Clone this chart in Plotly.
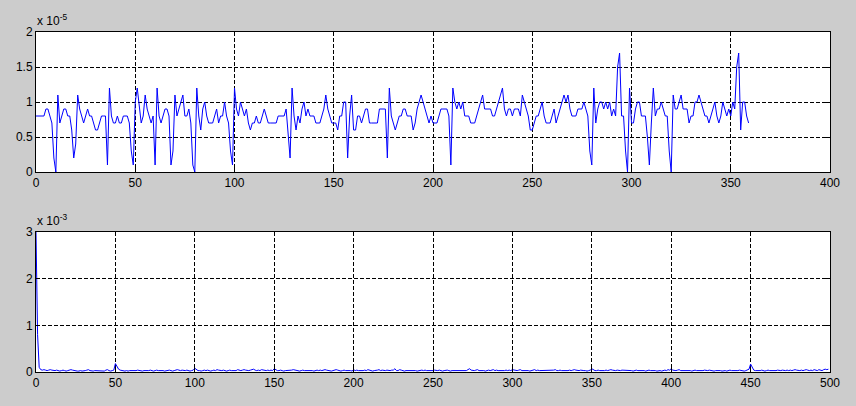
import plotly.graph_objects as go

# ---- top panel: signal (values in units of 1e-5) ----
top_vals_e5 = [
    0.8, 0.8, 0.8, 0.8, 0.8, 0.9, 0.9, 0.8, 0.7, 0.2,   # 0-9
    0.0, 1.1, 0.7, 0.8, 0.9, 0.9, 0.8, 0.8, 0.6, 0.2,   # 10-19
    0.4, 1.1, 0.9, 0.8, 0.7, 0.8, 0.9, 0.8, 0.8, 0.7,   # 20-29
    0.6, 0.6, 0.7, 0.8, 0.8, 0.8, 0.1, 1.2, 0.8, 0.7,   # 30-39
    0.7, 0.8, 0.7, 0.7, 0.8, 0.8, 0.8, 0.7, 0.3, 0.1,   # 40-49
    1.0, 1.2, 0.9, 0.7, 0.8, 1.1, 0.9, 0.8, 0.7, 0.8,   # 50-59
    0.1, 1.2, 0.8, 0.7, 0.8, 0.9, 0.9, 0.8, 0.1, 0.3,   # 60-69
    1.1, 0.8, 0.9, 1.0, 1.1, 0.8, 0.8, 0.9, 0.7, 0.1,   # 70-79
    0.0, 1.2, 0.8, 0.6, 0.9, 1.0, 0.8, 0.7, 0.7, 0.7,   # 80-89
    0.8, 0.9, 0.7, 0.8, 0.8, 1.0, 0.8, 0.7, 0.3, 0.1,   # 90-99
    1.2, 0.9, 0.8, 1.0, 0.9, 0.8, 0.9, 0.7, 0.6, 0.7,   # 100-109
    0.7, 0.8, 0.7, 0.7, 0.8, 0.9, 0.8, 0.7, 0.7, 0.7,   # 110-119
    0.7, 0.7, 0.8, 0.8, 0.8, 0.8, 0.9, 0.6, 0.2, 1.2,   # 120-129
    0.8, 0.6, 0.8, 0.7, 0.9, 1.0, 0.8, 0.9, 0.8, 0.8,   # 130-139
    0.8, 0.7, 0.7, 0.7, 0.8, 0.9, 1.1, 0.9, 0.8, 0.7,   # 140-149
    0.7, 0.7, 0.6, 0.8, 0.8, 1.0, 1.0, 0.2, 0.8, 1.1,   # 150-159
    0.6, 0.6, 0.8, 0.8, 0.7, 0.8, 0.9, 0.9, 0.7, 0.7,   # 160-169
    0.7, 0.7, 0.7, 0.9, 0.9, 0.9, 0.9, 0.2, 1.2, 0.8,   # 170-179
    0.7, 0.6, 0.7, 0.8, 0.8, 0.9, 0.9, 0.8, 0.8, 0.8,   # 180-189
    0.6, 0.7, 0.9, 1.0, 1.1, 1.0, 0.9, 0.8, 0.7, 0.8,   # 190-199
    0.7, 0.7, 0.7, 0.8, 0.9, 0.9, 0.9, 0.9, 0.8, 0.1,   # 200-209
    1.2, 1.0, 0.9, 1.0, 0.9, 1.0, 0.8, 0.8, 0.8, 0.7,   # 210-219
    0.7, 0.7, 0.8, 0.9, 1.0, 1.1, 0.9, 0.9, 0.9, 0.9,   # 220-229
    0.8, 0.8, 0.9, 1.0, 1.1, 1.2, 0.9, 0.8, 0.9, 0.9,   # 230-239
    0.8, 0.9, 0.9, 0.9, 0.8, 1.1, 1.0, 0.9, 0.8, 0.6,   # 240-249
    0.6, 0.7, 0.8, 0.8, 0.9, 1.0, 0.8, 0.7, 0.7, 0.7,   # 250-259
    0.8, 0.9, 0.7, 0.8, 0.9, 1.0, 1.1, 1.0, 1.1, 0.9,   # 260-269
    0.8, 0.8, 0.8, 0.9, 0.9, 0.9, 1.0, 0.9, 0.8, 0.3,   # 270-279
    0.1, 1.2, 0.7, 0.9, 1.0, 1.0, 0.9, 1.0, 0.9, 1.0,   # 280-289
    0.8, 0.9, 0.8, 1.5, 1.7, 0.8, 0.8, 0.3, 0.0, 1.2,   # 290-299
    0.7, 0.7, 0.9, 1.0, 1.0, 0.8, 0.8, 0.8, 0.5, 0.1,   # 300-309
    0.7, 1.2, 0.8, 0.9, 0.9, 1.0, 0.9, 0.8, 0.8, 0.3,   # 310-319
    0.0, 1.1, 0.9, 0.9, 1.0, 1.1, 0.9, 0.9, 0.9, 0.7,   # 320-329
    0.8, 0.8, 1.0, 1.0, 1.1, 1.0, 0.9, 0.8, 0.8, 0.7,   # 330-339
    0.8, 0.9, 1.0, 0.8, 0.7, 0.8, 1.0, 0.9, 0.8, 0.9,   # 340-349
    0.8, 1.0, 0.9, 1.5, 1.7, 0.6, 1.0, 1.0, 0.8, 0.7,   # 350-359
]
top_x = list(range(len(top_vals_e5)))

# ---- bottom panel: spectrum magnitude (values in units of 1e-5, i.e. 0.01e-3) ----
bot_vals_e5 = [
    300, 80, 10, 5, 4, 5, 4, 3, 4, 5, 4, 3, 3, 4, 3, 2, 3, 4, 3, 2, 3, 4, 5, 4, 3,
    3, 2, 2, 3, 2, 2, 3, 4, 5, 3, 2, 2, 3, 3, 2, 3, 2, 3, 2, 4, 5, 3, 2, 3, 4,
    18, 12, 6, 4, 3, 3, 2, 3, 2, 3, 3, 2, 2, 3, 4, 3, 2, 2, 3, 3, 2, 3, 4, 3, 2,
    3, 4, 3, 3, 4, 3, 2, 3, 3, 4, 3, 2, 3, 4, 5, 4, 3, 4, 3, 3, 4, 3, 2, 3, 4,
    8, 5, 3, 3, 2, 3, 4, 3, 4, 3, 2, 3, 4, 3, 5, 4, 3, 3, 4, 3, 2, 3, 4, 3, 3,
    4, 3, 5, 4, 3, 4, 5, 4, 3, 3, 4, 5, 6, 4, 3, 4, 3, 5, 4, 3, 3, 4, 3, 4, 3,
    7, 4, 3, 3, 4, 3, 2, 3, 3, 4, 3, 4, 5, 4, 3, 3, 2, 3, 4, 3, 3, 4, 3, 4, 3,
    2, 3, 4, 3, 4, 3, 4, 5, 4, 3, 3, 2, 3, 4, 5, 4, 3, 2, 3, 4, 3, 3, 4, 3, 2,
    5, 3, 4, 3, 3, 2, 3, 4, 3, 5, 4, 3, 2, 3, 3, 4, 5, 3, 4, 3, 3, 4, 3, 3, 4,
    4, 7, 3, 3, 5, 4, 3, 2, 3, 3, 4, 3, 4, 3, 3, 2, 3, 3, 4, 3, 4, 3, 3, 2, 3,
    3, 4, 3, 3, 4, 3, 2, 3, 4, 4, 3, 2, 3, 3, 4, 3, 3, 4, 3, 3, 4, 3, 5, 7, 4,
    3, 3, 4, 5, 3, 3, 4, 3, 2, 3, 4, 3, 4, 5, 3, 4, 3, 3, 2, 3, 3, 4, 3, 4, 3,
    5, 4, 3, 3, 4, 5, 3, 3, 4, 3, 3, 2, 3, 4, 5, 3, 4, 3, 3, 4, 3, 4, 3, 3, 4,
    3, 4, 5, 3, 3, 4, 3, 3, 2, 3, 3, 4, 3, 4, 5, 4, 3, 3, 4, 3, 3, 3, 2, 3, 4,
    7, 4, 3, 3, 4, 3, 3, 2, 3, 4, 3, 4, 5, 4, 3, 3, 4, 3, 3, 4, 4, 3, 3, 4, 3,
    3, 2, 3, 4, 3, 3, 4, 3, 3, 2, 3, 4, 3, 3, 4, 3, 2, 3, 3, 2, 3, 4, 3, 5, 4,
    7, 4, 3, 3, 4, 5, 3, 3, 4, 3, 4, 3, 3, 2, 3, 4, 3, 3, 2, 3, 3, 4, 3, 3, 4,
    3, 3, 2, 3, 3, 4, 3, 2, 3, 3, 2, 3, 4, 3, 3, 2, 2, 3, 4, 3, 3, 2, 3, 4, 6,
    17, 10, 4, 3, 3, 2, 3, 4, 3, 2, 3, 4, 3, 3, 2, 3, 3, 4, 3, 3, 4, 3, 3, 4, 3,
    4, 3, 4, 5, 4, 3, 3, 4, 3, 4, 5, 4, 3, 4, 3, 5, 4, 3, 5, 4, 3, 5, 6, 5, 6,
]
bot_x = list(range(len(bot_vals_e5)))

top_y = [v * 1e-5 for v in top_vals_e5]
bot_y = [v * 1e-5 for v in bot_vals_e5]

top_xticks = [0, 50, 100, 150, 200, 250, 300, 350, 400]
top_yticks = [0, 0.5e-5, 1e-5, 1.5e-5, 2e-5]
top_yticklabels = ["0", "0.5", "1", "1.5", "2"]
bot_xticks = [0, 50, 100, 150, 200, 250, 300, 350, 400, 450, 500]
bot_yticks = [0, 1e-3, 2e-3, 3e-3]
bot_yticklabels = ["0", "1", "2", "3"]

W, H = 856, 406
def px_x(p):
    return p / W
def px_y(p):
    return 1 - p / H

FONT = dict(family="Arial, Liberation Sans, sans-serif", size=12, color="#000000")

fig = go.Figure()
fig.add_trace(go.Scatter(x=top_x, y=top_y, mode="lines",
                         line=dict(color="#0000FF", width=1),
                         xaxis="x", yaxis="y", showlegend=False, hoverinfo="skip"))
fig.add_trace(go.Scatter(x=bot_x, y=bot_y, mode="lines",
                         line=dict(color="#0000FF", width=1),
                         xaxis="x2", yaxis="y2", showlegend=False, hoverinfo="skip"))

axis_common = dict(
    showline=True, linecolor="#000000", linewidth=1, mirror="allticks",
    ticks="inside", ticklen=4, tickcolor="#000000", tickwidth=1,
    showgrid=True, gridcolor="#000000", gridwidth=1, griddash="4px,2px",
    zeroline=False, tickfont=FONT, fixedrange=True, automargin=False,
)

fig.update_layout(
    width=W, height=H, autosize=False,
    margin=dict(l=0, r=0, t=0, b=0, pad=0),
    paper_bgcolor="#CCCCCC", plot_bgcolor="#FFFFFF",
    xaxis=dict(domain=[px_x(36), px_x(830)], range=[0, 400], anchor="y",
               tickvals=top_xticks, ticktext=[str(v) for v in top_xticks], **axis_common),
    yaxis=dict(domain=[px_y(172), px_y(32)], range=[0, 2e-5], anchor="x",
               tickvals=top_yticks, ticktext=top_yticklabels, **axis_common),
    xaxis2=dict(domain=[px_x(36), px_x(830)], range=[0, 500], anchor="y2",
                tickvals=bot_xticks, ticktext=[str(v) for v in bot_xticks], **axis_common),
    yaxis2=dict(domain=[px_y(372), px_y(232)], range=[0, 3e-3], anchor="x2",
                tickvals=bot_yticks, ticktext=bot_yticklabels, **axis_common),
    annotations=[
        dict(text="x 10<sup>-5</sup>", xref="paper", yref="paper",
             x=px_x(35), y=px_y(30), xanchor="left", yanchor="bottom",
             showarrow=False, font=FONT),
        dict(text="x 10<sup>-3</sup>", xref="paper", yref="paper",
             x=px_x(35), y=px_y(230), xanchor="left", yanchor="bottom",
             showarrow=False, font=FONT),
    ],
)

fig.write_html(
    "out.html",
    config={"displayModeBar": False},
    post_script="document.body.style.margin='0';document.body.style.overflow='hidden';",
)
